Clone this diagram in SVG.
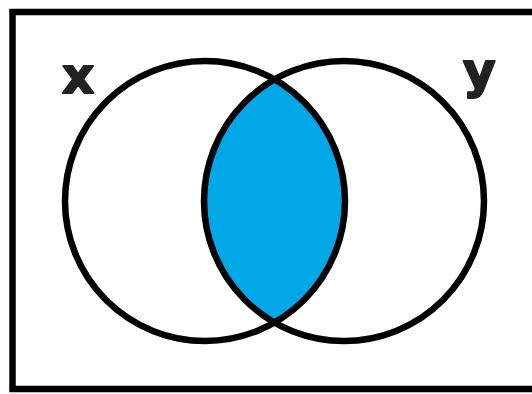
<svg xmlns="http://www.w3.org/2000/svg" width="532" height="394" viewBox="0 0 532 394">
<style>
.c{fill:none;stroke:#000;stroke-width:6.5}
.lbl{font-family:"DejaVu Sans","Liberation Sans",sans-serif;font-weight:bold;font-size:50px;fill:#222;stroke:#222;stroke-width:2;stroke-linejoin:round}
</style>
<defs>
<clipPath id="clipL"><circle cx="205" cy="201" r="140"/></clipPath>
</defs>
<rect width="532" height="394" fill="#fff"/>
<rect id="frame" x="12.5" y="12" width="540" height="377" fill="none" stroke="#000" stroke-width="6.5"/>
<g id="intersection">
<circle cx="344" cy="201" r="140" fill="#00A8E8" clip-path="url(#clipL)"/>
</g>
<g id="setX">
<circle class="c" cx="205" cy="201" r="140"/>
<text class="lbl" x="62" y="93">x</text>
</g>
<g id="setY">
<circle class="c" cx="344" cy="201" r="140"/>
<text class="lbl" x="463" y="88">y</text>
</g>
</svg>
